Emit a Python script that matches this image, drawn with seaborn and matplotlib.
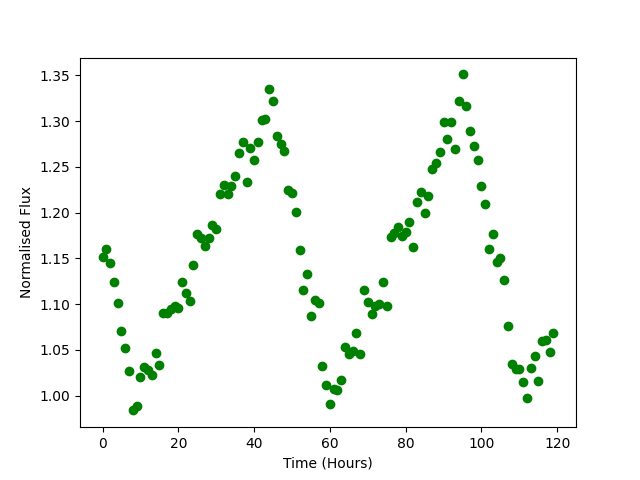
import matplotlib
matplotlib.use("Agg")
import matplotlib.pyplot as plt
import seaborn as sns
import numpy as np
import pandas as pd

time_hours = list(range(120))
flux = [
    1.152, 1.160, 1.145, 1.124, 1.101, 1.071, 1.052, 1.027, 0.984, 0.989,
    1.021, 1.031, 1.028, 1.023, 1.047, 1.034, 1.090, 1.090, 1.095, 1.098,
    1.096, 1.124, 1.112, 1.103, 1.143, 1.177, 1.172, 1.164, 1.172, 1.186,
    1.182, 1.220, 1.230, 1.220, 1.229, 1.240, 1.265, 1.277, 1.233, 1.271,
    1.258, 1.277, 1.301, 1.302, 1.335, 1.322, 1.284, 1.275, 1.267, 1.225,
    1.221, 1.201, 1.159, 1.116, 1.133, 1.087, 1.105, 1.101, 1.032, 1.012,
    0.991, 1.007, 1.006, 1.017, 1.053, 1.046, 1.049, 1.068, 1.046, 1.116,
    1.102, 1.089, 1.098, 1.100, 1.124, 1.098, 1.173, 1.178, 1.184, 1.175,
    1.179, 1.190, 1.162, 1.212, 1.223, 1.200, 1.218, 1.248, 1.254, 1.266,
    1.299, 1.280, 1.299, 1.269, 1.322, 1.351, 1.316, 1.289, 1.273, 1.257,
    1.229, 1.209, 1.160, 1.177, 1.146, 1.150, 1.126, 1.076, 1.035, 1.029,
    1.029, 1.015, 0.997, 1.030, 1.043, 1.016, 1.060, 1.061, 1.048, 1.069,
]

df = pd.DataFrame({"time": time_hours, "flux": flux})

fig, ax = plt.subplots(figsize=(6.4, 4.8), dpi=100)
sns.scatterplot(data=df, x="time", y="flux", color="green", s=36,
                edgecolor="green", linewidth=1.0, ax=ax)
ax.set_xlabel("Time (Hours)")
ax.set_ylabel("Normalised Flux")
fig.savefig("out.png", dpi=100)
